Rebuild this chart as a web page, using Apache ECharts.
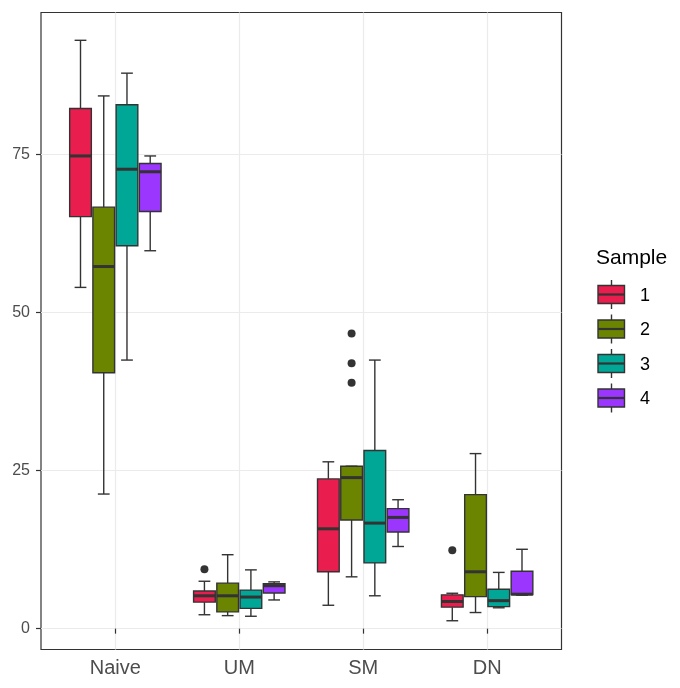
<!DOCTYPE html>
<html><head><meta charset="utf-8">
<script src="https://cdn.jsdelivr.net/npm/echarts@6/dist/echarts.min.js"></script>
<style>html,body{margin:0;padding:0;background:#fff}#c{width:680px;height:688px}</style>
</head><body><div id="c"></div>
<script>
// ---------- data ----------
const categories = ['Naive', 'UM', 'SM', 'DN'];
const sampleNames = ['1', '2', '3', '4'];
const yTicks = [0, 25, 50, 75];

// each row: [lower whisker, Q1, median, Q3, upper whisker], in category order
const sample1 = [[54.0, 65.2, 74.8, 82.3, 93.1], [2.2, 4.2, 5.2, 5.95, 7.5], [3.7, 9.0, 15.8, 23.7, 26.4], [1.25, 3.4, 4.3, 5.35, 5.6]];
const sample2 = [[21.3, 40.5, 57.3, 66.7, 84.3], [2.06, 2.65, 5.2, 7.2, 11.7], [8.2, 17.2, 23.9, 25.7, 25.7], [2.55, 5.07, 9.0, 21.2, 27.7]];
const sample3 = [[42.5, 60.6, 72.7, 82.9, 87.9], [1.96, 3.2, 5.0, 6.1, 9.3], [5.2, 10.4, 16.7, 28.2, 42.5], [3.3, 3.48, 4.43, 6.23, 8.9]];
const sample4 = [[59.8, 66.0, 72.3, 73.6, 74.8], [4.54, 5.65, 6.8, 7.1, 7.4], [13.0, 15.3, 17.6, 19.0, 20.4], [5.3, 5.38, 5.45, 9.08, 12.56]];

// outliers per category
const outliers1 = [[], [9.4], [], [12.4]];
const outliers2 = [[], [], [38.9, 42.0, 46.7], []];
const outliers3 = [[], [], [], []];
const outliers4 = [[], [], [], []];

// ---------- styling ----------
const colors = ['#EA1D4F', '#6B8500', '#00A696', '#9B36FF'];
const EDGE = '#333333';
const DODGE = 0.1875;   // spacing between dodged boxes (category units)
const BOXW = 0.175;     // box width (category units)
const CAPW = 0.095;     // whisker cap width
const FONT = '"Liberation Sans", Arial, sans-serif';

const samples = [sample1, sample2, sample3, sample4];
const outlierSets = [outliers1, outliers2, outliers3, outliers4];

function makeRender(sIdx) {
  return function (params, api) {
    const cat = api.value(0);
    const lo = api.value(1), q1 = api.value(2), med = api.value(3), q3 = api.value(4), hi = api.value(5);
    const xc = cat + (sIdx - 1.5) * DODGE;
    const px = v => api.coord([xc, v]);
    const xL = api.coord([xc - BOXW / 2, 0])[0];
    const xR = api.coord([xc + BOXW / 2, 0])[0];
    const cL = api.coord([xc - CAPW / 2, 0])[0];
    const cR = api.coord([xc + CAPW / 2, 0])[0];
    const x0 = px(0)[0];
    const yLo = px(lo)[1], yQ1 = px(q1)[1], yMed = px(med)[1], yQ3 = px(q3)[1], yHi = px(hi)[1];
    const ls = { stroke: EDGE, lineWidth: 1.4 };
    return {
      type: 'group',
      children: [
        { type: 'line', shape: { x1: x0, y1: yHi, x2: x0, y2: yQ3 }, style: ls },
        { type: 'line', shape: { x1: x0, y1: yQ1, x2: x0, y2: yLo }, style: ls },
        { type: 'line', shape: { x1: cL, y1: yHi, x2: cR, y2: yHi }, style: ls },
        { type: 'line', shape: { x1: cL, y1: yLo, x2: cR, y2: yLo }, style: ls },
        { type: 'rect', shape: { x: xL, y: yQ3, width: xR - xL, height: yQ1 - yQ3 },
          style: { fill: colors[sIdx], stroke: EDGE, lineWidth: 1.4 } },
        { type: 'line', shape: { x1: xL, y1: yMed, x2: xR, y2: yMed }, style: { stroke: EDGE, lineWidth: 3 } }
      ]
    };
  };
}

const series = [];
samples.forEach((rows, s) => {
  series.push({
    type: 'custom',
    name: sampleNames[s],
    renderItem: makeRender(s),
    encode: { x: 0, y: [1, 2, 3, 4, 5] },
    data: rows.map((r, i) => [i + 1].concat(r)),
    z: 3
  });
});
const outData = [];
outlierSets.forEach((set, s) => {
  set.forEach((vals, i) => {
    vals.forEach(v => outData.push([i + 1 + (s - 1.5) * DODGE, v]));
  });
});
series.push({
  type: 'scatter', data: outData, symbolSize: 8,
  itemStyle: { color: EDGE, opacity: 1 }, z: 4, silent: true
});

// legend drawn with graphic
const graphics = [{
  type: 'text', left: 596, top: 248,
  style: { text: 'Sample', font: '21px ' + FONT, fill: '#000' }
}];
sampleNames.forEach((nm, i) => {
  const yc = 294.5 + i * 34.5;
  graphics.push(
    { type: 'line', shape: { x1: 611.5, y1: yc - 14.5, x2: 611.5, y2: yc + 14.5 }, style: { stroke: EDGE, lineWidth: 1.4 } },
    { type: 'rect', shape: { x: 598, y: yc - 9, width: 26.5, height: 18 }, style: { fill: colors[i], stroke: EDGE, lineWidth: 1.4 } },
    { type: 'line', shape: { x1: 598, y1: yc, x2: 624.5, y2: yc }, style: { stroke: EDGE, lineWidth: 2.2 } },
    { type: 'text', x: 640, y: yc + 1.5, style: { text: nm, font: '18px ' + FONT, fill: '#000', textVerticalAlign: 'middle', verticalAlign: 'middle' } }
  );
});

const chart = echarts.init(document.getElementById('c'), null, { renderer: 'canvas' });
chart.setOption({
  animation: false,
  backgroundColor: '#fff',
  grid: { left: 41, right: 118.5, top: 12.5, bottom: 38.5, show: true, borderColor: EDGE, borderWidth: 1.2, backgroundColor: 'transparent' },
  xAxis: {
    type: 'value', min: 0.4, max: 4.6,
    axisLine: { show: false },
    axisTick: { show: true, length: 5, lineStyle: { color: EDGE, width: 1.2 }, customValues: [1, 2, 3, 4] },
    axisLabel: { customValues: [1, 2, 3, 4], formatter: v => categories[Math.round(v) - 1], fontSize: 20, color: '#4D4D4D', fontFamily: FONT, margin: 9 },
    splitLine: { show: true, lineStyle: { color: '#EBEBEB', width: 1.2 } }
  },
  yAxis: {
    type: 'value', min: -3.3, max: 97.5,
    axisLine: { show: false },
    axisTick: { show: true, length: 5, lineStyle: { color: EDGE, width: 1.2 }, customValues: yTicks },
    axisLabel: { customValues: yTicks, fontSize: 16, color: '#4D4D4D', fontFamily: FONT, margin: 11 },
    splitLine: { show: true, lineStyle: { color: '#EBEBEB', width: 1.2 } }
  },
  series: series,
  graphic: graphics
});
</script></body></html>
